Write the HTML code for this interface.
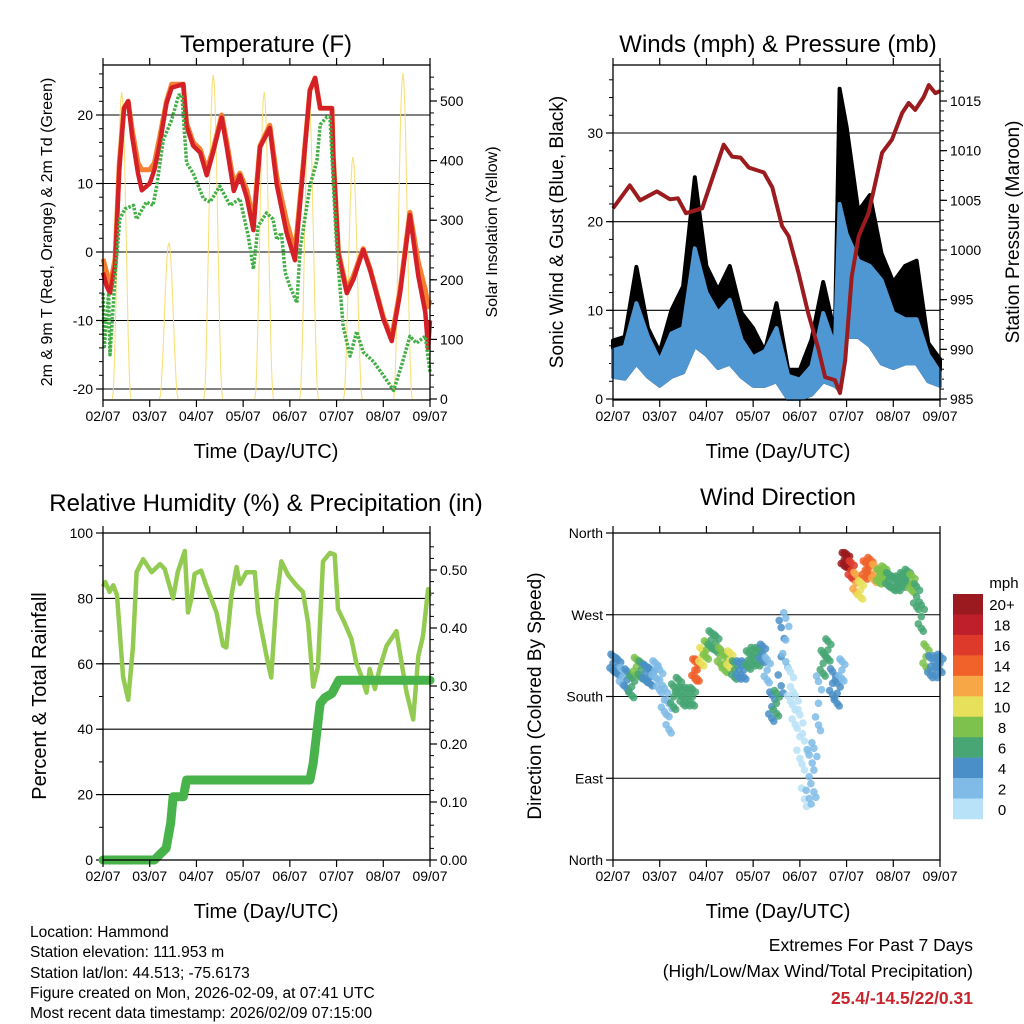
<!DOCTYPE html>
<html><head><meta charset="utf-8"><style>
html,body{margin:0;padding:0;background:#fff;}
svg{display:block;font-family:"Liberation Sans",sans-serif;}
</style></head><body>
<svg id="chart" width="1024" height="1024" viewBox="0 0 1024 1024" xmlns="http://www.w3.org/2000/svg">
<rect x="0" y="0" width="1024" height="1024" fill="#fff"/>
<g id="layer"></g>
<g font-size="24" text-anchor="middle" fill="#000">
<text x="266" y="52">Temperature (F)</text>
<text x="778" y="52">Winds (mph) &amp; Pressure (mb)</text>
<text x="266" y="511">Relative Humidity (%) &amp; Precipitation (in)</text>
<text x="778" y="505">Wind Direction</text>
</g>
<g font-size="20" text-anchor="middle">
<text x="266" y="458">Time (Day/UTC)</text>
<text x="778" y="458">Time (Day/UTC)</text>
<text x="266" y="918">Time (Day/UTC)</text>
<text x="778" y="918">Time (Day/UTC)</text>
<text transform="translate(52,232) rotate(-90)" font-size="16">2m &amp; 9m T (Red, Orange) &amp; 2m Td (Green)</text>
<text transform="translate(497,232) rotate(-90)" font-size="16">Solar Insolation (Yellow)</text>
<text transform="translate(563,232) rotate(-90)" font-size="19">Sonic Wind &amp; Gust (Blue, Black)</text>
<text transform="translate(1019,232) rotate(-90)" font-size="19">Station Pressure (Maroon)</text>
<text transform="translate(46,696) rotate(-90)" font-size="20">Percent &amp; Total Rainfall</text>
<text transform="translate(541,696) rotate(-90)" font-size="19">Direction (Colored By Speed)</text>
</g>
<g font-size="15.5" fill="#000">
<text x="30" y="937">Location: Hammond</text>
<text x="30" y="957">Station elevation: 111.953 m</text>
<text x="30" y="978">Station lat/lon: 44.513; -75.6173</text>
<text x="30" y="998">Figure created on Mon, 2026-02-09, at 07:41 UTC</text>
<text x="30" y="1018">Most recent data timestamp: 2026/02/09 07:15:00</text>
</g>
<g font-size="17.5" text-anchor="end">
<text x="973" y="951">Extremes For Past 7 Days</text>
<text x="973" y="977">(High/Low/Max Wind/Total Precipitation)</text>
<text x="973" y="1004" font-weight="bold" fill="#c8262c">25.4/-14.5/22/0.31</text>
</g>
</svg>
<script>
// ---------- data ----------
var dayLabels = ["02/07","03/07","04/07","05/07","06/07","07/07","08/07","09/07"];
var tempT = [0,0.08,0.15,0.26,0.35,0.45,0.54,0.62,0.75,0.83,1.0,1.1,1.22,1.36,1.47,1.72,1.79,1.93,2.08,2.22,2.36,2.54,2.65,2.8,2.93,3.08,3.22,3.36,3.57,3.72,3.93,4.11,4.25,4.43,4.54,4.65,4.9,4.93,5.04,5.22,5.36,5.57,5.72,6.0,6.18,6.36,6.57,6.75,6.9,6.96,7.0];
var temp2m = [-3,-5,-6,-2,12,21,22,17,11.5,9,10,12,16,21.7,24,24.5,18.3,15.5,14.5,11.2,14.6,19.6,15.3,8.9,11.2,7.9,3.2,15.3,18.1,9.8,2.8,-1.2,9.4,23.6,25.4,21,21,13.8,-0.4,-6,-4,0.3,-2.7,-9.8,-13,-6,5.4,-3.5,-8.8,-14,-10];
var temp9m = [-1,-3,-5,-1,13,21,22,18,13,12,12,13,17,22,24.5,24.5,18.8,16,15,12,15,20,16,10,11.5,9,4.5,15.5,18.5,11,4.5,0,10,23.6,25.4,21,21,14,0,-5.5,-3.5,0.5,-2.5,-9.5,-12.5,-5.5,5.8,-1.5,-5.5,-8,-7];
var dewT = [0,0.03,0.12,0.15,0.26,0.36,0.47,0.65,0.72,0.93,1.07,1.15,1.29,1.47,1.62,1.69,1.79,1.93,2.15,2.29,2.5,2.72,2.93,3.11,3.22,3.32,3.5,3.64,3.72,3.82,3.9,4.0,4.15,4.22,4.43,4.58,4.65,4.79,4.86,4.93,5.0,5.14,5.29,5.43,5.57,5.79,6.0,6.22,6.39,6.57,6.71,6.9,7.0];
var dewPt = [-6,-13.8,-6,-15,-3.5,4.8,6.3,6.8,4.8,7.3,6.8,9.6,16.4,19.3,22.9,22.9,13,11.5,7.8,7.3,9.6,6.8,7.8,2.3,-2.5,3.8,5.7,4.8,1.8,2.8,-3,-5,-7.4,0.4,9.6,13.4,18.6,19.7,19.7,10,1,-10.8,-15.2,-11.6,-14.6,-16,-18,-20.2,-16.6,-12.3,-13.3,-12.3,-17.5];
var solarPeakT = [0.40,1.41,2.36,3.45,4.41,5.35,6.42];
var solarPeakVal = [515,262,544,515,502,406,547];
var windT = [0,0.25,0.5,0.75,1.0,1.25,1.5,1.75,2.0,2.25,2.5,2.75,3.0,3.25,3.5,3.75,4.0,4.25,4.5,4.75,4.85,5.0,5.25,5.5,5.75,6.0,6.25,6.5,6.75,7.0];
var gustHi = [6.6,7,14.9,8,5.3,10,12.7,25,15,12.3,15,9.7,8,5.4,10.8,3.3,3.3,6.7,13.2,7.4,35,30.7,21.2,23,16.4,13.2,15,15.6,6.3,4.5];
var windHi = [5.5,5.9,10.8,7,4.3,7.4,8,17,12,9.7,11.2,6.7,4.7,5.4,8,2.6,2.2,3.7,9.7,5.9,22,18.6,15.6,15,13.4,9.7,9,9,5,3];
var windLo = [2.5,2.3,4,2.5,1.5,2.5,3,6,5,3.5,4,2.5,1.5,1.5,2,0,0,0.5,2,1.5,1,7,7,6,4,3.5,4,4,2,1.5];
var presT = [0,0.36,0.58,0.94,1.22,1.39,1.56,1.91,2.37,2.55,2.73,2.91,3.23,3.41,3.62,3.76,3.97,4.18,4.4,4.54,4.75,4.86,4.97,5.11,5.26,5.47,5.76,5.97,6.19,6.33,6.47,6.65,6.76,6.9,7.0];
var presVal = [1004.2,1006.5,1005,1005.9,1005.1,1005.2,1003.7,1004.2,1010.6,1009.4,1009.3,1008.3,1007.8,1006.3,1002.4,1001.4,997.7,993.6,990,987.2,986.9,985.6,988.9,997.3,1001.4,1003.7,1009.8,1011.1,1013.8,1014.8,1014.1,1015.4,1016.6,1015.8,1016];
var rhT = [0,0.05,0.14,0.22,0.3,0.43,0.54,0.64,0.72,0.86,1.04,1.22,1.32,1.5,1.6,1.75,1.82,1.89,1.96,2.1,2.21,2.43,2.57,2.64,2.75,2.86,2.93,3.07,3.25,3.32,3.5,3.6,3.71,3.82,3.96,4.14,4.28,4.39,4.5,4.6,4.71,4.86,4.96,5.03,5.17,5.32,5.42,5.53,5.64,5.71,5.82,5.92,6.07,6.28,6.39,6.5,6.64,6.75,6.85,6.96,7.0];
var rhVal = [83.6,85,82,84,81,56,49,65,88,92,88,90.5,89,80,88,94.5,75.7,79.8,87.5,88.5,84,75.7,65.5,65,81,89.6,84.4,88,88,75.7,62.4,55.8,79,91.3,87.2,84,82,72.6,53,59,91.3,93.9,93.4,76.7,72.6,67.5,60.4,56.3,51.2,58.4,52.3,58.4,65.5,70,60.4,51.2,43,62.4,68.5,82.8,80.7];
var prT = [0,1.1,1.22,1.35,1.45,1.5,1.72,1.79,4.43,4.5,4.65,4.75,4.9,5.05,7.0];
var prVal = [0,0,0.01,0.02,0.064,0.109,0.109,0.138,0.138,0.167,0.27,0.28,0.287,0.31,0.31];
var dirT = [0,0.1,0.2,0.3,0.4,0.5,0.6,0.7,0.8,0.9,1.0,1.1,1.2,1.3,1.4,1.5,1.6,1.7,1.75,1.8,1.9,2.0,2.1,2.2,2.3,2.4,2.5,2.6,2.7,2.8,2.9,3.0,3.1,3.2,3.3,3.4,3.5,3.6,3.7,3.8,3.9,4.0,4.1,4.2,4.3,4.4,4.5,4.6,4.7,4.8,4.9,4.95,5.0,5.1,5.2,5.3,5.4,5.5,5.6,5.7,5.8,5.9,6.0,6.1,6.2,6.3,6.4,6.5,6.6,6.7,6.8,6.9,7.0];
var dirVal = [216.5,212.8,201.8,198.2,190.8,212.8,209.2,205.5,201.8,209.2,198.2,176.1,157.8,179.8,190.8,179.8,179.8,179.8,209.2,209.2,223.8,231.2,242.2,238.5,223.8,216.5,220.2,209.2,209.2,209.2,220.2,223.8,223.8,227.5,209.2,168.8,172.5,223.8,242.2,190.8,165.1,135.8,99,91.7,99,172.5,216.5,231.2,194.5,183.5,209.2,330.3,330.3,319.3,304.6,297.2,319.3,323,315.6,311.9,315.6,308.3,304.6,304.6,308.3,311.9,304.6,289.9,267.9,223.8,212.8,212.8,216.5];
var dirSpread = [10,10,10,12,12,10,10,10,10,10,14,16,18,14,10,10,10,10,12,12,10,10,10,10,10,10,10,10,10,10,10,10,10,10,14,16,14,40,30,20,20,30,40,30,30,30,14,12,16,14,12,8,8,10,12,10,10,10,10,8,8,8,8,8,8,8,10,14,16,14,12,12,10];
var dirSpeed = [4,4,3,5,6,9,7,4,4,3,2,2,3,6,7,6,6,7,14,14,10,8,7,7,8,9,10,7,4,4,6,7,6,4,3,4,6,4,2,1,1,1,1,2,3,3,6,7,4,4,2,20,20,16,12,10,14,14,12,8,8,7,6,6,6,7,8,6,7,8,4,4,4];
var speedLabels = ["20+","18","16","14","12","10","8","6","4","2","0"];
var speedColors = ["#9a1a1f","#bf1e2b","#de3a2b","#f0622a","#f7a745","#e7e05a","#7cc24c","#47a673","#4a8fc7","#7fbbe6","#b7e2f7"];

// ---------- helpers ----------
var SVGNS = "http://www.w3.org/2000/svg";
var rootLayer = document.getElementById("layer");
function mk(tag, attrs, parent){
  var e = document.createElementNS(SVGNS, tag);
  for (var k in attrs) e.setAttribute(k, attrs[k]);
  (parent||rootLayer).appendChild(e);
  return e;
}
function lin(d0,d1,r0,r1){ return function(v){ return r0 + (v-d0)/(d1-d0)*(r1-r0); }; }
function pathOf(ts, vs, fx, fy){
  return ts.map(function(t,i){ return (i?"L":"M")+fx(t).toFixed(1)+","+fy(vs[i]).toFixed(1); }).join("");
}
function frame(name){
  var g = mk("g",{});
  
  
  return g;
}
function box(P, g){
  var r = mk("rect",{x:P.x0,y:P.y0,width:P.x1-P.x0,height:P.y1-P.y0,fill:"none",stroke:"#000","stroke-width":1.3},g);
  
  
}
function xAxis(P, g){
  var fx = lin(0,7,P.x0,P.x1);
  for (var i=0;i<=7;i++){
    var x = fx(i);
    mk("line",{x1:x,x2:x,y1:P.y1,y2:P.y1+7,stroke:"#000","stroke-width":1.2},g);
    mk("line",{x1:x,x2:x,y1:P.y0,y2:P.y0-7,stroke:"#000","stroke-width":1.2},g);
    var t = mk("text",{x:x,y:P.y1+21,"font-size":14,"text-anchor":"middle"},g);
    t.textContent = dayLabels[i];
    
    
  }
}
function yAxis(P, g, fy, ticks, labels, side, minor, grid){
  var xe = side==="L" ? P.x0 : P.x1, dr = side==="L" ? -1 : 1;
  ticks.forEach(function(v,i){
    var y = fy(v);
    mk("line",{x1:xe,x2:xe+dr*7,y1:y,y2:y,stroke:"#000","stroke-width":1.2},g);
    if (grid) mk("line",{x1:P.x0,x2:P.x1,y1:y,y2:y,stroke:"#000","stroke-width":1.1},g);
    var t = mk("text",{x:xe+dr*10,y:y+5,"font-size":14,"text-anchor":side==="L"?"end":"start"},g);
    t.textContent = labels[i];
    
    
  });
  (minor||[]).forEach(function(v){
    var y = fy(v);
    mk("line",{x1:xe,x2:xe+dr*4,y1:y,y2:y,stroke:"#000","stroke-width":1},g);
  });
}
function range(a,b,s){ var r=[]; for(var v=a; v<=b+1e-9; v+=s) r.push(+v.toFixed(4)); return r; }
function speedColor(s){ var idx = 10 - Math.min(10, Math.floor(s/2)); return speedColors[idx]; }

function drawTemp(){
  var P = {x0:103,x1:430,y0:65,y1:400};
  var g = frame('temperature-panel');
  var fx = lin(0,7,P.x0,P.x1), fy = lin(-20,20,389,115), fs = lin(0,500,399,101);
  yAxis(P,g,fy,[-20,-10,0,10,20],["-20","-10","0","10","20"],"L",range(-20,26,2),true);
  yAxis(P,g,fs,[0,100,200,300,400,500],["0","100","200","300","400","500"],"R",range(0,550,20),false);
  var d = "";
  solarPeakT.forEach(function(pt,i){
    var pts=[];
    for (var k=0;k<=20;k++){ var t = pt-0.2+k*0.02; var s=Math.sin(Math.PI*k/20); pts.push((k?"L":"M")+fx(t).toFixed(1)+","+fs(solarPeakVal[i]*s*s).toFixed(1)); }
    d += pts.join("");
  });
  var sol = mk("path",{d:d,fill:"none",stroke:"#f8dc6a","stroke-width":1.1,opacity:0.9},g);
  
  
  var o = mk("path",{d:pathOf(tempT,temp9m,fx,fy),fill:"none",stroke:"#f47f30","stroke-width":5,"stroke-linejoin":"round"},g);
  
  
  var r = mk("path",{d:pathOf(tempT,temp2m,fx,fy),fill:"none",stroke:"#d42027","stroke-width":4.5,"stroke-linejoin":"round"},g);
  
  
  var gr = mk("path",{d:pathOf(dewT,dewPt,fx,fy),fill:"none",stroke:"#43ae45","stroke-width":3.5,"stroke-dasharray":"2.5 1.5","stroke-linejoin":"round"},g);
  
  
  box(P,g); xAxis(P,g);
}
function drawWinds(){
  var P = {x0:613,x1:940,y0:65,y1:400};
  var g = frame('winds-panel');
  var fx = lin(0,7,P.x0,P.x1), fy = lin(0,30,399,133), fp = lin(985,1015,399,101);
  yAxis(P,g,fy,[0,10,20,30],["0","10","20","30"],"L",range(0,36,2),true);
  yAxis(P,g,fp,[985,990,995,1000,1005,1010,1015],["985","990","995","1000","1005","1010","1015"],"R",range(985,1018,1),false);
  function band(hi,lo,color,name){
    var up = windT.map(function(t,i){ return fx(t).toFixed(1)+","+fy(hi[i]).toFixed(1); });
    var dn = windT.map(function(t,i){ return fx(t).toFixed(1)+","+fy(lo[i]).toFixed(1); }).reverse();
    var p = mk("polygon",{points:up.concat(dn).join(" "),fill:color,stroke:color,"stroke-width":4,"stroke-linejoin":"round"},g);
    
    
  }
  band(gustHi,windLo,"#000","gust-band");
  band(windHi,windLo,"#4f97d2","sonic-wind-band");
  var pr = mk("path",{d:pathOf(presT,presVal,fx,fp),fill:"none",stroke:"#9b1b1e","stroke-width":4,"stroke-linejoin":"round"},g);
  
  
  box(P,g); xAxis(P,g);
}
function drawHumidity(){
  var P = {x0:103,x1:430,y0:533,y1:860};
  var g = frame('humidity-panel');
  var fx = lin(0,7,P.x0,P.x1), fy = lin(0,100,860,533), fr = lin(0,0.5,860,570);
  yAxis(P,g,fy,[0,20,40,60,80,100],["0","20","40","60","80","100"],"L",range(0,100,10),false);
  [20,40,60,80].forEach(function(v){ mk("line",{x1:P.x0,x2:P.x1,y1:fy(v),y2:fy(v),stroke:"#000","stroke-width":1.1},g); });
  yAxis(P,g,fr,[0,0.1,0.2,0.3,0.4,0.5],["0.00","0.10","0.20","0.30","0.40","0.50"],"R",range(0,0.55,0.02),false);
  var rh = mk("path",{d:pathOf(rhT,rhVal,fx,fy),fill:"none",stroke:"#93cb52","stroke-width":4.5,"stroke-linejoin":"round"},g);
  
  
  var pc = mk("path",{d:pathOf(prT,prVal,fx,fr),fill:"none",stroke:"#47b34a","stroke-width":9,"stroke-linejoin":"round","stroke-linecap":"round"},g);
  
  
  box(P,g); xAxis(P,g);
}
function drawDirection(){
  var P = {x0:613,x1:940,y0:533,y1:860};
  var g = frame('wind-direction-panel');
  var fx = lin(0,7,P.x0,P.x1), fy = lin(0,360,860,533);
  yAxis(P,g,fy,[0,90,180,270,360],["North","East","South","West","North"],"L",[],false);
  [90,180,270].forEach(function(v){ mk("line",{x1:P.x0,x2:P.x1,y1:fy(v),y2:fy(v),stroke:"#000","stroke-width":1.1},g); });
  var offY = [0,-1,1,-0.5,0.5,-0.8,0.8];
  var offX = [0,2,-2,-3,3,0,0];
  for (var i=0;i<dirT.length;i++){
    var sp = dirSpread[i] || 10;
    for (var j=0;j<offY.length;j++){
      var c = mk("circle",{cx:(fx(dirT[i])+offX[j]).toFixed(1),cy:fy(dirVal[i]+offY[j]*sp).toFixed(1),r:3.8,fill:speedColor(dirSpeed[i]||0),opacity:0.85},g);
      
      
    }
  }
  box(P,g); xAxis(P,g);
}
function drawColorbar(){
  var cb = frame('speed-colorbar');
  var h = (819-594)/11;
  for (var i=0;i<speedColors.length;i++){
    var r = mk("rect",{x:953,y:594+i*h,width:30,height:h+0.3,fill:speedColors[i]},cb);
    
    
    var t = mk("text",{x:1002,y:594+i*h+h/2+6,"font-size":15,"text-anchor":"middle"},cb);
    t.textContent = speedLabels[i];
    
    
  }
  var u = mk("text",{x:1004,y:588,"font-size":15,"text-anchor":"middle"},cb);
  u.textContent = "mph";
  
  
}
[drawTemp, drawWinds, drawHumidity, drawDirection, drawColorbar].forEach(function(f){
  try { f(); } catch(e) { if (window.console) console.log(e); }
});
</script>
</body></html>
